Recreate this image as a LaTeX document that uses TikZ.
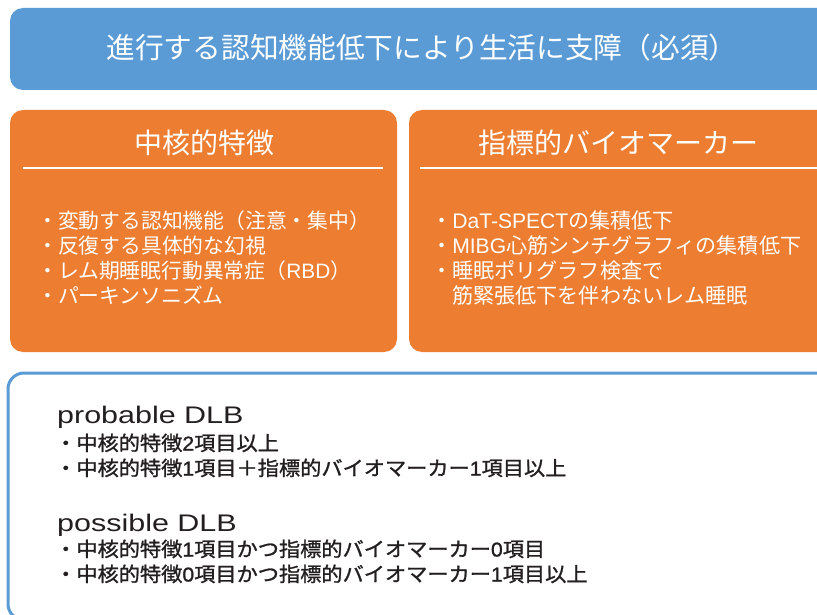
\documentclass[tikz,border=0pt]{standalone}
\usepackage{fontspec}
\setmainfont{Noto Sans CJK JP}
\newfontfamily\cjkmid[FakeBold=1.2]{Noto Sans CJK JP}
\newfontfamily\latinsans{Liberation Sans}
\newfontfamily\latinmid[FakeBold=1.2]{Liberation Sans}
\newcommand{\lat}[1]{{\latinsans #1}}
\newcommand{\latm}[1]{{\latinmid #1}}
\definecolor{topblue}{RGB}{91,155,213}
\definecolor{boxorange}{RGB}{237,125,49}
\definecolor{darktext}{RGB}{35,31,32}
\tikzset{
  x=1pt, y=-1pt,
  panel/.style={rounded corners=13pt},
  whitetxt/.style={text=white, inner sep=0pt},
  listtxt/.style={text=white, inner sep=0pt, align=left, anchor=west},
  darklist/.style={text=darktext, inner sep=0pt, anchor=west},
  dlbhead/.style={text=darktext, inner sep=0pt, anchor=west},
}
\begin{document}
\begin{tikzpicture}
\clip (0,0) rectangle (817,615);
\fill[white] (0,0) rectangle (817,615);
% top box
\fill[topblue, panel] (10,8) rectangle (840,90);
\node[whitetxt, font=\fontsize{28.7}{32}\selectfont] (title) at (422,48) {進行する認知機能低下により生活に支障（必須）};
% orange boxes
\fill[boxorange, panel] (10,110) rectangle (397,352);
\fill[boxorange, panel] (409,110) rectangle (840,352);
\node[whitetxt, font=\fontsize{28}{32}\selectfont] (coreT) at (204,143) {中核的特徴};
\node[whitetxt, font=\fontsize{28}{32}\selectfont] (bioT) at (618,143) {指標的バイオマーカー};
\coordinate (l1a) at (23,168);
\coordinate (l1b) at (383,168);
\coordinate (l2a) at (420,168);
\coordinate (l2b) at (840,168);
\draw[white, line width=2pt] (l1a) -- (l1b);
\draw[white, line width=2pt] (l2a) -- (l2b);
\node[listtxt, font=\fontsize{20.8}{25}\selectfont] (coreL) at (37,257.5) {・変動する認知機能（注意・集中）\\・反復する具体的な幻視\\・レム期睡眠行動異常症（\lat{RBD}）\\・パーキンソニズム};
\node[listtxt, font=\fontsize{21.1}{25}\selectfont] (bioL) at (431,258) {・\lat{DaT-SPECT}の集積低下\\・\lat{MIBG}心筋シンチグラフィの集積低下\\・睡眠ポリグラフ検査で\\\phantom{・}筋緊張低下を伴わないレム睡眠};
% bottom box
\draw[topblue, line width=3pt, rounded corners=16pt, fill=white] (8,373) rectangle (840,620);
\node[dlbhead] (prob) at (57,417) {\scalebox{1.27}[1]{\latinsans\fontsize{24}{28}\selectfont probable DLB}};
\node[darklist] (probL) at (55,458) {\scalebox{1.06}[1]{\cjkmid\fontsize{20}{25}\selectfont\begin{tabular}{@{}l@{}}・中核的特徴\latm{2}項目以上\\・中核的特徴\latm{1}項目＋指標的バイオマーカー\latm{1}項目以上\end{tabular}}};
\node[dlbhead] (poss) at (57,525) {\scalebox{1.27}[1]{\latinsans\fontsize{24}{28}\selectfont possible DLB}};
\node[darklist] (possL) at (55,564) {\scalebox{1.06}[1]{\cjkmid\fontsize{20}{25}\selectfont\begin{tabular}{@{}l@{}}・中核的特徴\latm{1}項目かつ指標的バイオマーカー\latm{0}項目\\・中核的特徴\latm{0}項目かつ指標的バイオマーカー\latm{1}項目以上\end{tabular}}};
\end{tikzpicture}
\end{document}
